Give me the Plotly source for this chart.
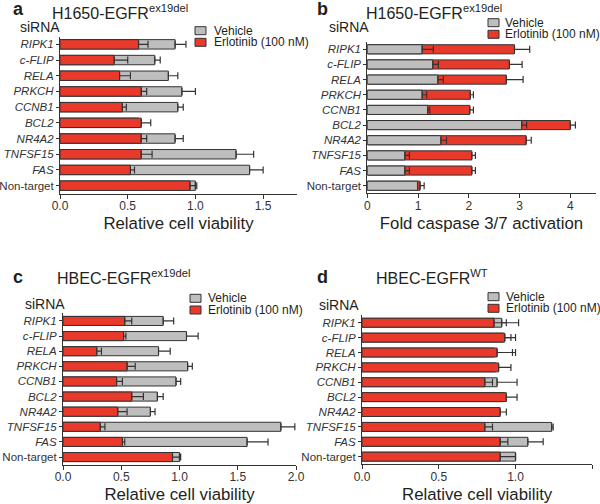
import plotly.graph_objects as go

# ---------------- data ----------------
genes = ["RIPK1", "c-FLIP", "RELA", "PRKCH", "CCNB1", "BCL2", "NR4A2", "TNFSF15", "FAS", "Non-target"]
gene_labels = ["<i>RIPK1</i>", "<i>c-FLIP</i>", "<i>RELA</i>", "<i>PRKCH</i>", "<i>CCNB1</i>",
               "<i>BCL2</i>", "<i>NR4A2</i>", "<i>TNFSF15</i>", "<i>FAS</i>", "Non-target"]

# panel a: H1650-EGFRex19del, relative cell viability
a_veh = [0.85, 0.70, 0.80, 0.90, 0.87, 0.58, 0.85, 1.30, 1.40, 1.00]
a_veh_err = [0.08, 0.04, 0.07, 0.10, 0.04, 0.00, 0.06, 0.13, 0.10, 0.01]
a_erl = [0.58, 0.40, 0.44, 0.60, 0.46, 0.60, 0.60, 0.60, 0.52, 0.96]
a_erl_err = [0.07, 0.10, 0.08, 0.04, 0.03, 0.07, 0.04, 0.08, 0.03, 0.04]

# panel b: H1650-EGFRex19del, fold caspase 3/7 activation
b_veh = [1.08, 1.29, 1.39, 1.08, 1.19, 3.04, 1.45, 0.74, 0.74, 0.99]
b_veh_err = [0.22, 0.11, 0.11, 0.09, 0.04, 0.10, 0.11, 0.09, 0.09, 0.00]
b_erl = [2.90, 2.80, 2.74, 2.03, 2.02, 4.00, 3.13, 2.06, 2.06, 1.04]
b_erl_err = [0.30, 0.25, 0.33, 0.06, 0.07, 0.10, 0.10, 0.07, 0.07, 0.08]

# panel c: HBEC-EGFRex19del, relative cell viability
c_veh = [0.86, 1.06, 0.82, 1.07, 0.97, 0.81, 0.75, 1.87, 1.58, 1.00]
c_veh_err = [0.09, 0.10, 0.10, 0.04, 0.04, 0.05, 0.04, 0.12, 0.18, 0.01]
c_erl = [0.53, 0.52, 0.29, 0.55, 0.46, 0.59, 0.47, 0.32, 0.51, 0.94]
c_erl_err = [0.06, 0.02, 0.04, 0.07, 0.05, 0.10, 0.08, 0.04, 0.02, 0.06]

# panel d: HBEC-EGFRWT, relative cell viability
d_veh = [0.91, 0.92, 0.86, 0.87, 0.88, 0.92, 0.88, 1.235, 1.08, 1.00]
d_veh_err = [0.11, 0.05, 0.12, 0.00, 0.13, 0.00, 0.00, 0.01, 0.10, 0.00]
d_erl = [0.86, 0.93, 0.88, 0.89, 0.80, 0.94, 0.90, 0.80, 0.90, 0.90]
d_erl_err = [0.08, 0.07, 0.12, 0.08, 0.05, 0.07, 0.04, 0.05, 0.05, 0.10]

series_names = ["Vehicle", "Erlotinib (100 nM)"]

# ---------------- style ----------------
W, H = 600, 504
RED = "#E8392A"
GRAY = "#BEBEBE"
EDGE = "#333333"
TXT = "#231F20"
FONT = "Liberation Sans, Arial, Helvetica, sans-serif"


def px(x):
    return x / W


def py(y):
    return 1 - y / H


panels = [
    dict(letter="a", title="H1650-EGFR<sup>ex19del</sup>", xlabel="Relative cell viability",
         veh=a_veh, veh_err=a_veh_err, erl=a_erl, erl_err=a_erl_err, red_top=True,
         xdom=(60, 297), ydom=(36.5, 193.5), xr=[0, 1.75], tickvals=[0, 0.5, 1.0, 1.5],
         ticktext=["0.0", "0.5", "1.0", "1.5"],
         letter_pos=(11, 9), title_pos=(50, 12), sirna_pos=(18, 27), leg=(195, 30.7, 42.3, 212)),
    dict(letter="b", title="H1650-EGFR<sup>ex19del</sup>", xlabel="Fold caspase 3/7 activation",
         veh=b_veh, veh_err=b_veh_err, erl=b_erl, erl_err=b_erl_err, red_top=False,
         xdom=(367.3, 595.7), ydom=(41.7, 193.3), xr=[0, 4.5], tickvals=[0, 1, 2, 3, 4],
         ticktext=["0", "1", "2", "3", "4"],
         letter_pos=(315, 9), title_pos=(364, 12), sirna_pos=(326.5, 27), leg=(488, 22.7, 34.3, 503)),
    dict(letter="c", title="HBEC-EGFR<sup>ex19del</sup>", xlabel="Relative cell viability",
         veh=c_veh, veh_err=c_veh_err, erl=c_erl, erl_err=c_erl_err, red_top=True,
         xdom=(63, 296), ydom=(313.4, 464.6), xr=[0, 2.0], tickvals=[0, 0.5, 1.0, 1.5, 2.0],
         ticktext=["0.0", "0.5", "1.0", "1.5", "2.0"],
         letter_pos=(11, 277), title_pos=(55, 277), sirna_pos=(22.5, 303.5), leg=(190, 298.3, 310, 206)),
    dict(letter="d", title="HBEC-EGFR<sup>WT</sup>", xlabel="Relative cell viability",
         veh=d_veh, veh_err=d_veh_err, erl=d_erl, erl_err=d_erl_err, red_top=True,
         xdom=(362, 592.3), ydom=(315.3, 464.1), xr=[0, 1.5], tickvals=[0, 0.5, 1.0, 1.5],
         ticktext=["0.0", "0.5", "1.0", "1.5"],
         letter_pos=(315, 277), title_pos=(374, 277), sirna_pos=(317, 305), leg=(488, 296.7, 308.3, 504)),
]

fig = go.Figure()
annotations = []
shapes = []
layout_axes = {}

for i, p in enumerate(panels):
    n = "" if i == 0 else str(i + 1)
    xa, ya = "x" + n, "y" + n

    def bar(vals, errs, color, name):
        return go.Bar(
            y=genes, x=vals, orientation="h", name=name, xaxis=xa, yaxis=ya,
            marker=dict(color=color, line=dict(color=EDGE, width=1)),
            error_x=dict(type="data", symmetric=False, array=errs, arrayminus=[0] * len(errs),
                         color=EDGE, thickness=1.2, width=3.5),
            showlegend=False, hoverinfo="x+y",
        )

    veh_tr = bar(p["veh"], p["veh_err"], GRAY, series_names[0])
    erl_tr = bar(p["erl"], p["erl_err"], RED, series_names[1])
    if p["red_top"]:
        fig.add_trace(veh_tr)
        fig.add_trace(erl_tr)
    else:
        fig.add_trace(erl_tr)
        fig.add_trace(veh_tr)

    x0, x1 = p["xdom"]
    y0, y1 = p["ydom"]
    layout_axes["xaxis" + n] = dict(
        domain=[px(x0), px(x1)], range=p["xr"], anchor=ya, automargin=False,
        tickvals=p["tickvals"], ticktext=p["ticktext"],
        ticks="outside", ticklen=4, tickwidth=1, tickcolor=EDGE, ticklabelstandoff=-3,
        showline=True, linecolor=EDGE, linewidth=1, showgrid=False, zeroline=False,
        tickfont=dict(size=12, color="#333333", family=FONT),
        title=dict(text=p["xlabel"], font=dict(size=16.8, color=TXT, family=FONT), standoff=5),
        fixedrange=True,
    )
    layout_axes["yaxis" + n] = dict(
        domain=[py(y1), py(y0)], anchor=xa, autorange="reversed", automargin=False,
        categoryorder="array", categoryarray=genes,
        tickvals=genes, ticktext=gene_labels,
        ticks="outside", ticklen=3, tickwidth=1, tickcolor=EDGE,
        showline=True, linecolor=EDGE, linewidth=1, showgrid=False, zeroline=False,
        tickfont=dict(size=11.5, color="#333333", family=FONT),
        fixedrange=True,
    )

    # panel letter
    lx, ly = p["letter_pos"]
    annotations.append(dict(text="<b>%s</b>" % p["letter"], x=px(lx), y=py(ly), xref="paper", yref="paper",
                            xanchor="left", yanchor="middle", showarrow=False,
                            font=dict(size=18, color=TXT, family=FONT)))
    # title
    tx, ty = p["title_pos"]
    annotations.append(dict(text=p["title"], x=px(tx), y=py(ty), xref="paper", yref="paper",
                            xanchor="left", yanchor="middle", showarrow=False,
                            font=dict(size=16, color=TXT, family=FONT)))
    # siRNA label
    sx, sy = p["sirna_pos"]
    annotations.append(dict(text="siRNA", x=px(sx), y=py(sy), xref="paper", yref="paper",
                            xanchor="left", yanchor="middle", showarrow=False,
                            font=dict(size=14, color=TXT, family=FONT)))
    # legend (swatches + labels)
    gx, gy1, gy2, gtx = p["leg"]
    for yy, col, name in ((gy1, GRAY, series_names[0]), (gy2, RED, series_names[1])):
        shapes.append(dict(type="rect", xref="paper", yref="paper",
                           x0=px(gx), x1=px(gx + 11), y0=py(yy + 4), y1=py(yy - 4),
                           fillcolor=col, line=dict(color=EDGE, width=1)))
        annotations.append(dict(text=name, x=px(gtx), y=py(yy), xref="paper", yref="paper",
                                xanchor="left", yanchor="middle", showarrow=False,
                                font=dict(size=12, color=TXT, family=FONT)))

fig.update_layout(
    width=W, height=H,
    margin=dict(l=0, r=0, t=0, b=0, autoexpand=False),
    paper_bgcolor="white", plot_bgcolor="white",
    barmode="overlay", bargap=0.4,
    font=dict(family=FONT, color=TXT),
    annotations=annotations, shapes=shapes,
    showlegend=False,
    **layout_axes,
)

fig.write_html(
    "out.html",
    config={"displayModeBar": False, "staticPlot": True},
    post_script="document.body.style.margin='0';document.body.style.padding='0';document.body.style.overflow='hidden';",
)
